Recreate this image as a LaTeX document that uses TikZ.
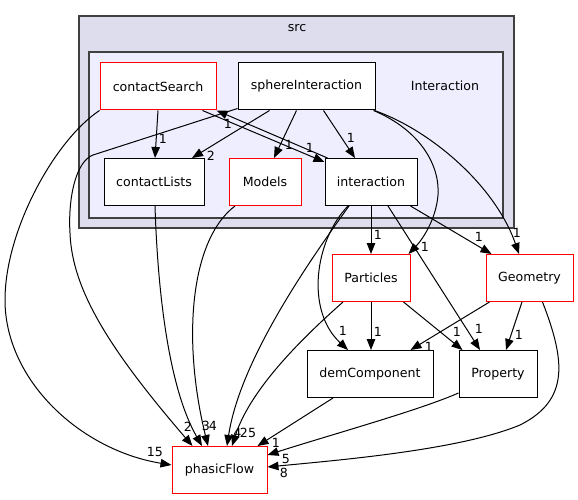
\documentclass[tikz,border=0pt]{standalone}
\usepackage{fontspec}
\setmainfont{DejaVu Sans}
\usetikzlibrary{arrows.meta}
\definecolor{srcfill}{HTML}{DDDDEE}
\definecolor{intfill}{HTML}{EEEEFF}
\definecolor{clborder}{HTML}{404040}
\tikzset{
  cluster/.style={draw=clborder, line width=1.3pt, inner sep=0pt},
  box/.style={draw=black, fill=white, line width=1pt, minimum width=#1, minimum height=47pt, inner sep=0pt, font=\fontsize{12.6}{14}\selectfont},
  redbox/.style={box=#1, draw=red},
  lbl/.style={inner sep=0pt, font=\fontsize{12.6}{14}\selectfont},
  edge/.style={line width=1pt, -{Triangle[length=11pt,width=8.5pt]}},
}
\begin{document}
\begin{tikzpicture}[x=1pt,y=-1pt]
\useasboundingbox (0,0) rectangle (578,500);
\node[cluster, fill=srcfill, minimum width=435pt, minimum height=212pt] (src) at (296.5,122) {};
\node[lbl] (srclbl) at (297,28) {src};
\node[cluster, fill=intfill, minimum width=414pt, minimum height=166pt] (intc) at (296,135) {};
\node[lbl] (intclbl) at (445,86) {Interaction};

\node[redbox=116pt] (cs) at (158,86.5) {contactSearch};
\node[box=137pt] (sph) at (306.5,86.5) {sphereInteraction};
\node[box=100pt] (cl) at (154,182) {contactLists};
\node[redbox=72pt] (mod) at (265,182) {Models};
\node[box=92pt] (int) at (371,182) {interaction};
\node[redbox=78pt] (par) at (371,278) {Particles};
\node[redbox=87pt] (geo) at (529.5,278) {Geometry};
\node[box=126pt] (dem) at (370,374) {demComponent};
\node[box=78pt] (prop) at (498,374) {Property};
\node[redbox=95pt] (pf) at (219.5,470) {phasicFlow};

% edges
\draw[edge] (cs.south) -- ([xshift=1pt]cl.north);
\draw[edge] ([xshift=-14pt]cs.south east) -- ([yshift=-4pt]int.north west);
\draw[edge] ([xshift=3pt]int.north west) -- (cs.south east);
\draw[edge] ([xshift=-37pt]sph.south) -- ([xshift=38pt]cl.north);
\draw[edge] ([xshift=-10pt]sph.south) -- ([xshift=9pt]mod.north);
\draw[edge] ([xshift=17pt]sph.south) -- ([xshift=-16pt]int.north);
\draw[edge] ([xshift=-2pt]sph.south east) .. controls (420,130) and (440,165) .. (438,195) .. controls (436,220) and (422,240) .. ([xshift=-2pt]par.north east);
\draw[edge] ([xshift=-1pt]sph.south east) .. controls (430,130) and (495,185) .. ([xshift=-10.5pt]geo.north);
\draw[edge] ([yshift=2pt]sph.south west) -- (93,155) .. controls (75,162) and (68,200) .. (70,233) .. controls (72,290) and (110,350) .. ([xshift=-27pt]pf.north);
\draw[edge] (cs.south west) .. controls (55,140) and (5,230) .. (5,300) .. controls (5,380) and (80,450) .. ([yshift=5pt]pf.west);
\draw[edge] (int.south) -- (par.north);
\draw[edge] ([xshift=-23pt]int.south) .. controls (315,240) and (305,310) .. ([xshift=-22pt]dem.north);
\draw[edge] ([xshift=17pt]int.south) -- ([xshift=-18pt]prop.north);
\draw[edge] ([xshift=-7pt]int.south east) -- ([xshift=6pt]geo.north west);
\draw[edge] ([xshift=-22pt]int.south) .. controls (310,260) and (240,360) .. ([xshift=7.5pt]pf.north);
\draw[edge] ([xshift=1pt]cl.south) .. controls (158,300) and (170,390) .. ([xshift=-17.5pt]pf.north);
\draw[edge] ([xshift=-30pt]mod.south) .. controls (190,240) and (182,340) .. ([xshift=-11.5pt]pf.north);
\draw[edge] (par.south) -- ([xshift=1pt]dem.north);
\draw[edge] ([xshift=-7pt]par.south east) -- ([xshift=4pt]prop.north west);
\draw[edge] ([xshift=-28pt]par.south) .. controls (300,340) and (250,390) .. ([xshift=12.5pt]pf.north);
\draw[edge] ([xshift=4pt]geo.south west) -- ([xshift=-23pt]dem.north east);
\draw[edge] ([xshift=-7.5pt]geo.south) -- ([xshift=8pt]prop.north);
\draw[edge] ([xshift=-31pt]geo.south east) .. controls (565,360) and (570,400) .. (520,425) .. controls (460,450) and (340,460) .. ([yshift=3pt]pf.east);
\draw[edge] ([xshift=-37pt]dem.south) -- ([xshift=-10pt]pf.north east);
\draw[edge] ([yshift=5pt]prop.south west) .. controls (420,410) and (330,435) .. ([yshift=15pt]pf.east);

% labels
\node[lbl] (l1) at (163,139) {1};
\node[lbl] (l2) at (310,148) {1};
\node[lbl] (l3) at (155,452) {15};
\node[lbl] (l4) at (211,156) {2};
\node[lbl] (l5) at (289,145) {1};
\node[lbl] (l6) at (351,138) {1};
\node[lbl] (l7) at (425,247) {1};
\node[lbl] (l8) at (517,233) {1};
\node[lbl] (l9) at (188,427) {2};
\node[lbl] (l10) at (228,124) {1};
\node[lbl] (l11) at (378,235) {1};
\node[lbl] (l12) at (343,331) {1};
\node[lbl] (l13) at (479,329) {1};
\node[lbl] (l14) at (479,237) {1};
\node[lbl] (l15) at (237.5,433) {4};
\node[lbl] (l16) at (206,426) {3};
\node[lbl] (l17) at (213,426) {4};
\node[lbl] (l18) at (378,332) {1};
\node[lbl] (l19) at (457,332) {1};
\node[lbl] (l20) at (248,433) {25};
\node[lbl] (l21) at (429,347) {1};
\node[lbl] (l22) at (519,335) {1};
\node[lbl] (l23) at (284,473) {8};
\node[lbl] (l24) at (276,443) {1};
\node[lbl] (l25) at (286,459) {5};
\end{tikzpicture}
\end{document}
